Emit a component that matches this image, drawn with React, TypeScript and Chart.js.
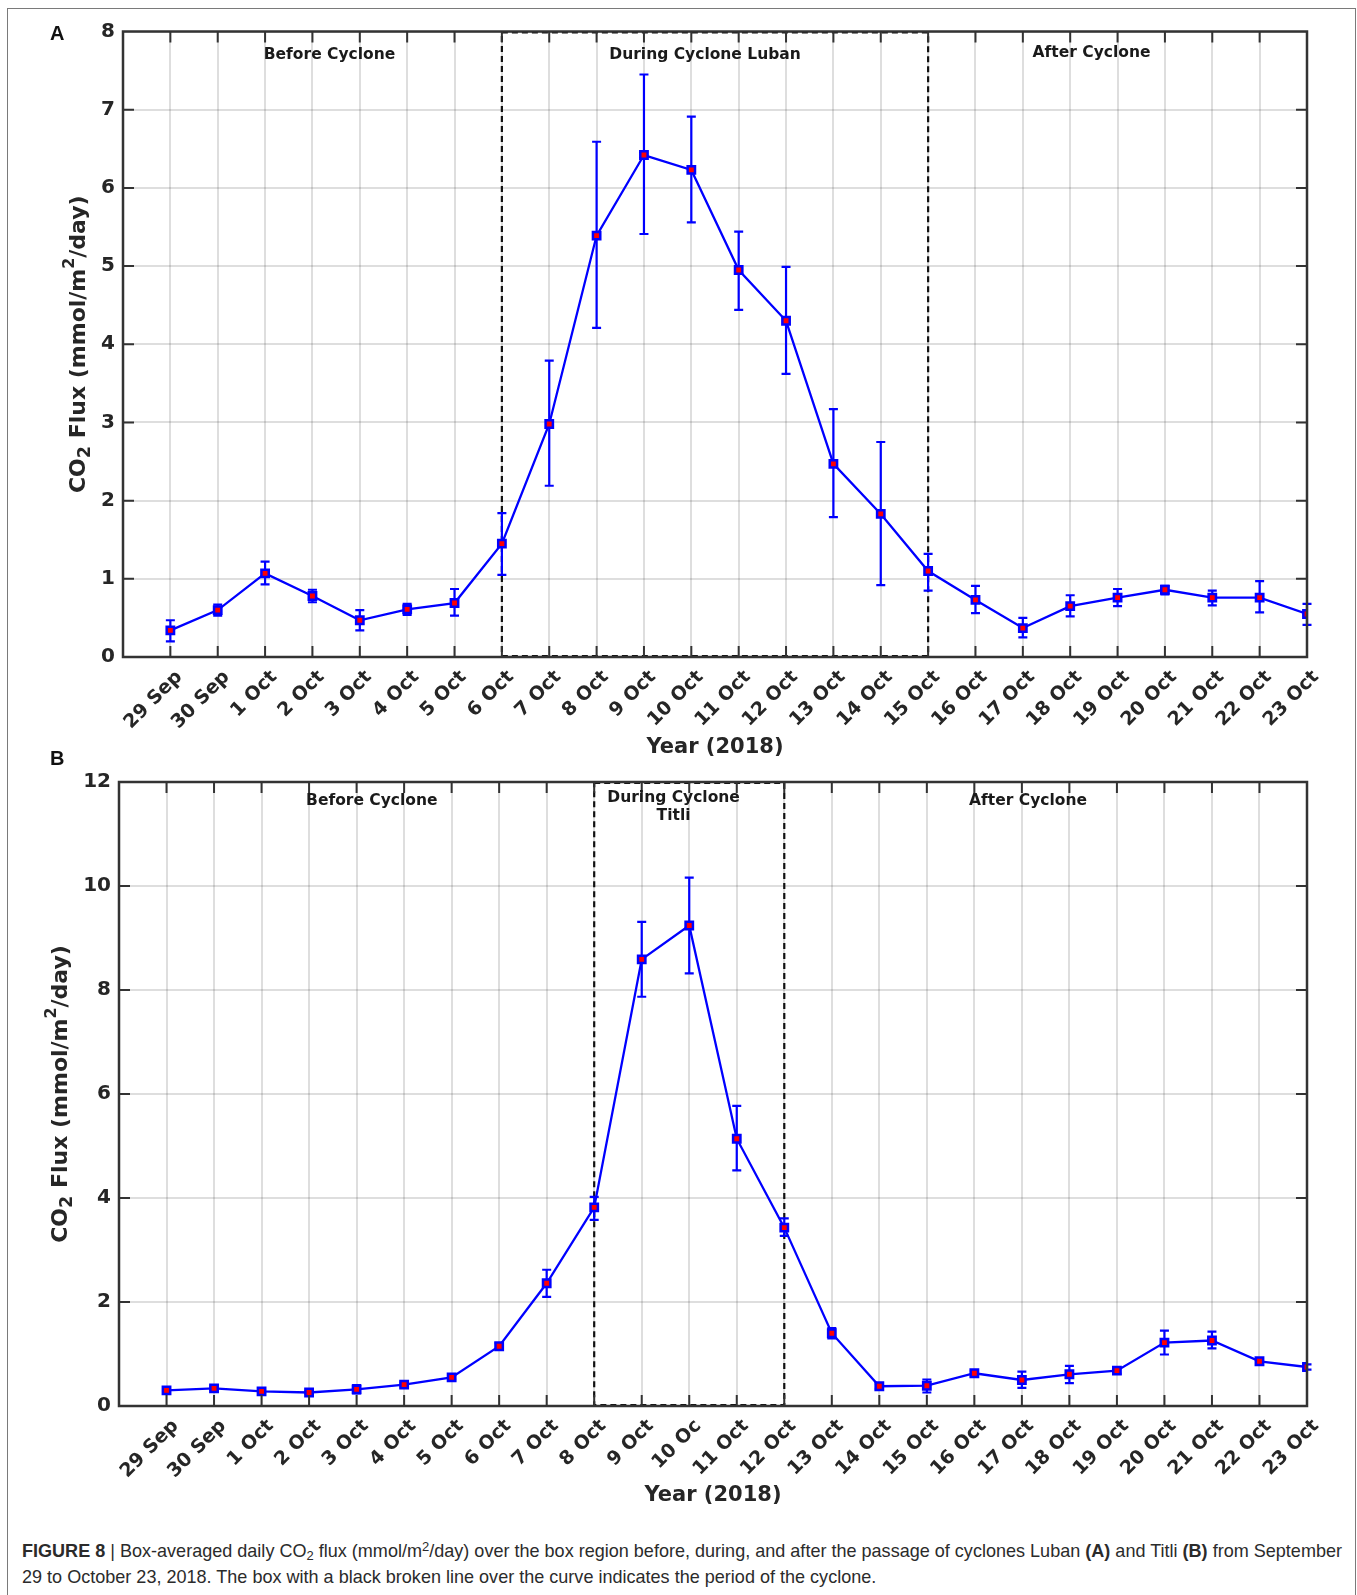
import React, { useEffect, useLayoutEffect, useRef } from 'react';
import { Chart, registerables } from 'chart.js';

Chart.register(...registerables);

// ---------------- DATA ----------------
const categoriesA = [
  '29 Sep', '30 Sep', '1 Oct', '2 Oct', '3 Oct', '4 Oct', '5 Oct', '6 Oct', '7 Oct', '8 Oct',
  '9 Oct', '10 Oct', '11 Oct', '12 Oct', '13 Oct', '14 Oct', '15 Oct', '16 Oct', '17 Oct',
  '18 Oct', '19 Oct', '20 Oct', '21 Oct', '22 Oct', '23 Oct',
];
const categoriesB = [
  '29 Sep', '30 Sep', '1 Oct', '2 Oct', '3 Oct', '4 Oct', '5 Oct', '6 Oct', '7 Oct', '8 Oct',
  '9 Oct', '10 Oc', '11 Oct', '12 Oct', '13 Oct', '14 Oct', '15 Oct', '16 Oct', '17 Oct',
  '18 Oct', '19 Oct', '20 Oct', '21 Oct', '22 Oct', '23 Oct',
];

// Cyclone Luban (A)
const fluxA = [0.34, 0.6, 1.07, 0.78, 0.47, 0.61, 0.69, 1.45, 2.98, 5.39, 6.42, 6.23, 4.95, 4.3, 2.47, 1.83, 1.1, 0.73, 0.37, 0.65, 0.76, 0.86, 0.76, 0.76, 0.55];
const lowA = [0.2, 0.53, 0.93, 0.7, 0.34, 0.54, 0.53, 1.05, 2.19, 4.21, 5.41, 5.56, 4.44, 3.62, 1.79, 0.92, 0.85, 0.56, 0.25, 0.52, 0.65, 0.8, 0.66, 0.57, 0.41];
const highA = [0.47, 0.67, 1.22, 0.86, 0.6, 0.68, 0.87, 1.84, 3.79, 6.59, 7.45, 6.91, 5.44, 4.99, 3.17, 2.75, 1.32, 0.91, 0.5, 0.79, 0.87, 0.91, 0.85, 0.97, 0.68];

// Cyclone Titli (B)
const fluxB = [0.3, 0.34, 0.28, 0.26, 0.32, 0.41, 0.55, 1.15, 2.36, 3.82, 8.59, 9.24, 5.14, 3.43, 1.4, 0.38, 0.39, 0.63, 0.5, 0.61, 0.68, 1.22, 1.26, 0.86, 0.75];
const lowB = [0.26, 0.3, 0.25, 0.23, 0.24, 0.37, 0.51, 1.1, 2.1, 3.58, 7.87, 8.32, 4.53, 3.27, 1.3, 0.33, 0.26, 0.58, 0.35, 0.44, 0.62, 0.99, 1.11, 0.81, 0.7];
const highB = [0.34, 0.38, 0.31, 0.29, 0.4, 0.45, 0.59, 1.21, 2.62, 4.02, 9.31, 10.16, 5.77, 3.61, 1.5, 0.43, 0.51, 0.68, 0.66, 0.77, 0.74, 1.45, 1.43, 0.91, 0.8];

const cyclonePeriodA = ['6 Oct', '15 Oct'];
const cyclonePeriodB = ['8 Oct', '12 Oct'];

const yTicksA = [0, 1, 2, 3, 4, 5, 6, 7, 8];
const yTicksB = [0, 2, 4, 6, 8, 10, 12];

// ---------------- STYLE ----------------
const FONT = 'DejaVu Sans';
const TEXT = '#262626';
const BLUE = '#0000ff';

type Region = { text: string[]; x: number; dy: number };

const figurePlugin = {
  id: 'figure',
  beforeDatasetsDraw(chart: any, _args: any, opts: any) {
    const { ctx, chartArea: ca, scales } = chart;
    const x = scales.x;
    const y = scales.y;
    ctx.save();
    // cyclone dashed box
    const x0 = x.getPixelForValue(opts.boxStart);
    const x1 = x.getPixelForValue(opts.boxEnd);
    ctx.setLineDash([6, 4]);
    ctx.strokeStyle = '#111';
    ctx.lineWidth = 2.2;
    ctx.strokeRect(x0, ca.top + 1, x1 - x0, ca.bottom - ca.top - 2);
    ctx.setLineDash([]);
    // error bars
    ctx.strokeStyle = BLUE;
    ctx.lineWidth = 2.2;
    const lows: number[] = opts.low;
    const highs: number[] = opts.high;
    for (let i = 0; i < lows.length; i++) {
      const px = x.getPixelForValue(i);
      const pl = y.getPixelForValue(lows[i]);
      const ph = y.getPixelForValue(highs[i]);
      ctx.beginPath();
      ctx.moveTo(px, pl);
      ctx.lineTo(px, ph);
      ctx.moveTo(px - 4.5, pl);
      ctx.lineTo(px + 4.5, pl);
      ctx.moveTo(px - 4.5, ph);
      ctx.lineTo(px + 4.5, ph);
      ctx.stroke();
    }
    ctx.restore();
  },
  afterDraw(chart: any, _args: any, opts: any) {
    const { ctx, chartArea: ca, scales } = chart;
    const x = scales.x;
    const y = scales.y;
    ctx.save();
    // frame
    ctx.strokeStyle = '#333';
    ctx.lineWidth = 2.5;
    ctx.strokeRect(ca.left, ca.top, ca.right - ca.left, ca.bottom - ca.top);
    // inward ticks
    const tl = 11;
    ctx.lineWidth = 2;
    ctx.beginPath();
    x.ticks.forEach((t: any) => {
      const px = x.getPixelForValue(t.value);
      if (px <= ca.left + 1 || px >= ca.right - 1) return;
      ctx.moveTo(px, ca.bottom);
      ctx.lineTo(px, ca.bottom - tl);
      ctx.moveTo(px, ca.top);
      ctx.lineTo(px, ca.top + tl);
    });
    y.ticks.forEach((t: any) => {
      const py = y.getPixelForValue(t.value);
      if (py <= ca.top + 1 || py >= ca.bottom - 1) return;
      ctx.moveTo(ca.left, py);
      ctx.lineTo(ca.left + tl, py);
      ctx.moveTo(ca.right, py);
      ctx.lineTo(ca.right - tl, py);
    });
    ctx.stroke();

    // region labels
    ctx.fillStyle = '#1a1a1a';
    ctx.font = `bold 15.5px "${FONT}"`;
    ctx.textAlign = 'center';
    ctx.textBaseline = 'middle';
    (opts.regions as Region[]).forEach((r) => {
      const px = x.getPixelForValue(r.x);
      r.text.forEach((line, k) => {
        ctx.fillText(line, px, ca.top + r.dy + k * 18.5);
      });
    });

    // y-axis title with sub/superscripts
    const size = 22;
    const segs = [
      { t: 'CO', s: size, dy: 0 },
      { t: '2', s: size * 0.8, dy: size * 0.3 },
      { t: ' Flux (mmol/m', s: size, dy: 0 },
      { t: '2', s: size * 0.72, dy: -size * 0.42 },
      { t: '/day)', s: size, dy: 0 },
    ];
    let total = 0;
    const widths = segs.map((sg) => {
      ctx.font = `bold ${sg.s}px "${FONT}"`;
      const w = ctx.measureText(sg.t).width;
      total += w;
      return w;
    });
    ctx.translate(opts.yTitleX, (ca.top + ca.bottom) / 2);
    ctx.rotate(-Math.PI / 2);
    ctx.fillStyle = TEXT;
    ctx.textAlign = 'left';
    ctx.textBaseline = 'middle';
    let cx = -total / 2;
    segs.forEach((sg, i) => {
      ctx.font = `bold ${sg.s}px "${FONT}"`;
      ctx.fillText(sg.t, cx, sg.dy);
      cx += widths[i];
    });
    ctx.restore();
  },
};

type Cfg = {
  cats: string[];
  flux: number[];
  low: number[];
  high: number[];
  period: string[];
  yTicks: number[];
  width: number;
  height: number;
  padTop: number;
  yAxisWidth: number;
  xAxisHeight: number;
  titlePadBottom: number;
  yTitleX: number;
  regions: Region[];
};

function FluxChart({ cfg, top }: { cfg: Cfg; top: number }) {
  const ref = useRef<HTMLCanvasElement | null>(null);
  useEffect(() => {
    if (!ref.current) return;
    const { cats, flux, low, high, period, yTicks } = cfg;
    const chart = new Chart(ref.current, {
      type: 'line',
      data: {
        datasets: [
          {
            data: flux.map((v, i) => ({ x: i, y: v })),
            borderColor: BLUE,
            borderWidth: 2.3,
            backgroundColor: '#ff0000',
            pointBackgroundColor: '#ff0000',
            pointBorderColor: BLUE,
            pointBorderWidth: 2.5,
            pointStyle: 'rect',
            pointRadius: 5.2,
            tension: 0,
            fill: false,
          },
        ],
      },
      options: {
        responsive: false,
        animation: false,
        events: [],
        layout: { padding: { top: cfg.padTop, right: 50, left: 0, bottom: 0 } },
        plugins: {
          legend: { display: false },
          tooltip: { enabled: false },
          figure: {
            boxStart: cats.indexOf(period[0]),
            boxEnd: cats.indexOf(period[1]),
            low,
            high,
            regions: cfg.regions,
            yTitleX: cfg.yTitleX,
          },
        } as any,
        scales: {
          x: {
            type: 'linear',
            min: -1,
            max: cats.length - 1,
            afterBuildTicks: (s: any) => {
              s.ticks = cats.map((_, i) => ({ value: i }));
            },
            afterFit: (s: any) => {
              s.height = cfg.xAxisHeight;
            },
            ticks: {
              autoSkip: false,
              minRotation: 45,
              maxRotation: 45,
              padding: 9,
              labelOffset: 9,
              color: TEXT,
              font: { family: FONT, size: 19, weight: 'bold' },
              callback: (v: any) => cats[v] ?? '',
            },
            grid: { color: 'rgba(0,0,0,0.13)', lineWidth: 2, drawTicks: false },
            border: { display: false },
            title: {
              display: true,
              text: 'Year (2018)',
              color: TEXT,
              font: { family: FONT, size: 21, weight: 'bold' },
              padding: { top: 0, bottom: cfg.titlePadBottom },
            },
          },
          y: {
            type: 'linear',
            min: yTicks[0],
            max: yTicks[yTicks.length - 1],
            afterBuildTicks: (s: any) => {
              s.ticks = yTicks.map((v) => ({ value: v }));
            },
            afterFit: (s: any) => {
              s.width = cfg.yAxisWidth;
            },
            ticks: { padding: 8, color: TEXT, font: { family: FONT, size: 20, weight: 'bold' } },
            grid: { color: 'rgba(0,0,0,0.13)', lineWidth: 2, drawTicks: false },
            border: { display: false },
          },
        },
      },
      plugins: [figurePlugin],
    } as any);
    return () => chart.destroy();
  }, [cfg]);
  return (
    <canvas
      ref={ref}
      width={cfg.width}
      height={cfg.height}
      style={{ position: 'absolute', left: 0, top, width: cfg.width, height: cfg.height }}
    />
  );
}

const cfgA: Cfg = {
  cats: categoriesA,
  flux: fluxA,
  low: lowA,
  high: highA,
  period: cyclonePeriodA,
  yTicks: yTicksA,
  width: 1357,
  height: 770,
  padTop: 31.5,
  yAxisWidth: 123,
  xAxisHeight: 113,
  titlePadBottom: 9.5,
  yTitleX: 79,
  regions: [
    { text: ['Before Cyclone'], x: 3.36, dy: 23.5 },
    { text: ['During Cyclone Luban'], x: 11.29, dy: 23.5 },
    { text: ['After Cyclone'], x: 19.45, dy: 21.5 },
  ],
};

const cfgB: Cfg = {
  cats: categoriesB,
  flux: fluxB,
  low: lowB,
  high: highB,
  period: cyclonePeriodB,
  yTicks: yTicksB,
  width: 1357,
  height: 780,
  padTop: 32,
  yAxisWidth: 119,
  xAxisHeight: 124,
  titlePadBottom: 21.5,
  yTitleX: 61,
  regions: [
    { text: ['Before Cyclone'], x: 4.32, dy: 18.5 },
    { text: ['During Cyclone', 'Titli'], x: 10.67, dy: 15.5 },
    { text: ['After Cyclone'], x: 18.13, dy: 18.5 },
  ],
};

const subStyle: React.CSSProperties = { fontSize: '0.72em', lineHeight: 0, verticalAlign: '-0.25em' };
const supStyle: React.CSSProperties = { fontSize: '0.72em', lineHeight: 0, verticalAlign: '0.45em' };

function Caption() {
  const boxRef = useRef<HTMLDivElement | null>(null);
  const lineRef = useRef<HTMLSpanElement | null>(null);
  useLayoutEffect(() => {
    const box = boxRef.current;
    const line = lineRef.current;
    if (!box || !line) return;
    box.style.transform = 'none';
    const w = line.getBoundingClientRect().width;
    if (w > 0) box.style.transform = `scaleX(${1320 / w})`;
  }, []);
  return (
    <div
      ref={boxRef}
      style={{
        position: 'absolute',
        left: 22,
        top: 1538,
        fontFamily: "'Liberation Sans Narrow', 'Arial Narrow', 'Liberation Sans', sans-serif",
        fontSize: 19,
        lineHeight: '26px',
        color: '#2b2b2b',
        whiteSpace: 'nowrap',
        transformOrigin: '0 0',
      }}
    >
      <span ref={lineRef}>
        <b>FIGURE 8</b> | Box-averaged daily CO<sub style={subStyle}>2</sub> flux (mmol/m
        <sup style={supStyle}>2</sup>/day) over the box region before, during, and after the passage of
        cyclones Luban <b>(A)</b> and Titli <b>(B)</b> from September
      </span>
      <br />
      <span>
        29 to October 23, 2018. The box with a black broken line over the curve indicates the period of
        the cyclone.
      </span>
    </div>
  );
}

export default function App() {
  return (
    <div
      style={{
        position: 'fixed',
        left: 0,
        top: 0,
        width: 1357,
        height: 1595,
        overflow: 'hidden',
        background: '#fff',
      }}
    >
      <div
        style={{
          position: 'absolute',
          left: 7,
          top: 8,
          width: 1349,
          height: 1587,
          boxSizing: 'border-box',
          border: '1.5px solid #7a7a7a',
          borderBottom: 'none',
        }}
      />
      <FluxChart cfg={cfgA} top={0} />
      <FluxChart cfg={cfgB} top={750} />
      <div
        style={{
          position: 'absolute',
          left: 50,
          top: 22,
          fontFamily: "'Liberation Sans', Arial, sans-serif",
          fontWeight: 'bold',
          fontSize: 20,
          color: '#111',
        }}
      >
        A
      </div>
      <div
        style={{
          position: 'absolute',
          left: 50,
          top: 747,
          fontFamily: "'Liberation Sans', Arial, sans-serif",
          fontWeight: 'bold',
          fontSize: 20,
          color: '#111',
        }}
      >
        B
      </div>
      <Caption />
    </div>
  );
}
